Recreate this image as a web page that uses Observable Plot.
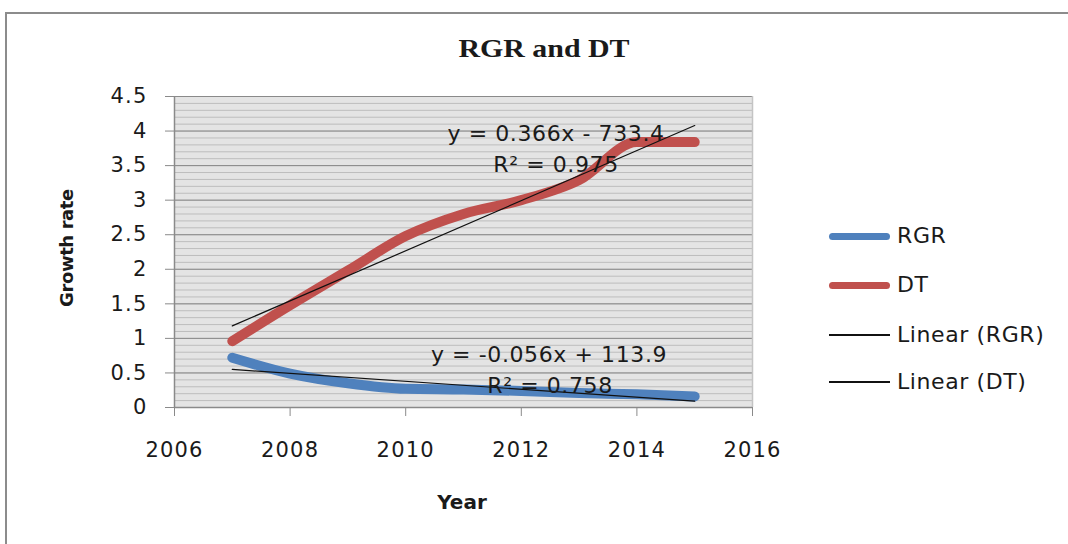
<!DOCTYPE html>
<html>
<head>
<meta charset="utf-8">
<script src="https://cdn.jsdelivr.net/npm/d3@7"></script>
<script src="https://cdn.jsdelivr.net/npm/@observablehq/plot@0.6"></script>
<style>
  html, body { margin: 0; padding: 0; background: #fff; }
  #wrap { position: relative; width: 1068px; height: 544px; overflow: hidden; background: #fff; font-family: "DejaVu Sans", sans-serif; color: #1a1a1a; }
  #frame { position: absolute; left: 5px; top: 12px; width: 1200px; height: 700px; border: 2px solid #8c8c8c; box-sizing: border-box; }
  #chart { position: absolute; left: 0; top: 0; }
  .t { position: absolute; white-space: nowrap; transform: translate(-50%, -50%); line-height: 1; }
  .l { position: absolute; white-space: nowrap; transform: translate(0, -50%); line-height: 1; font-size: 22px; letter-spacing: 0.6px; }
  .sw { position: absolute; }
</style>
</head>
<body>
<div id="wrap">
  <div id="frame"></div>
  <div id="chart"></div>
</div>
<script>
// ---- data ----
const years = [2007, 2008, 2009, 2010, 2011, 2012, 2013, 2014, 2015];
const rgr = [0.72, 0.49, 0.35, 0.27, 0.26, 0.24, 0.21, 0.19, 0.16];
const dt = [0.96, 1.48, 1.98, 2.48, 2.80, 3.00, 3.29, 3.84, 3.84];
const seriesNames = ["RGR", "DT"];
const seriesColors = ["#4f81bd", "#c0504d"];
const trendNames = ["Linear (RGR)", "Linear (DT)"];
const xTicks = [2006, 2008, 2010, 2012, 2014, 2016];
const yTicks = [0, 0.5, 1, 1.5, 2, 2.5, 3, 3.5, 4, 4.5];
const yMinor = d3.range(0, 46).map(i => i / 10);
const titleText = "RGR and DT";
const xLabel = "Year";
const yLabel = "Growth rate";
const eqDT = ["y = 0.366x - 733.4", "R² = 0.975"];
const eqRGR = ["y = -0.056x + 113.9", "R² = 0.758"];

const rows = [];
years.forEach((yr, i) => {
  rows.push({year: yr, value: rgr[i], series: "RGR"});
  rows.push({year: yr, value: dt[i], series: "DT"});
});

const chart = Plot.plot({
  width: 1068,
  height: 544,
  marginLeft: 174,
  marginRight: 316,
  marginTop: 96,
  marginBottom: 137,
  style: { fontFamily: "DejaVu Sans, sans-serif", fontSize: "21px", letterSpacing: "1.2px", color: "#1a1a1a", background: "transparent", overflow: "visible" },
  x: { domain: [2006, 2016], label: null },
  y: { domain: [0, 4.5], label: null },
  color: { domain: seriesNames, range: seriesColors },
  marks: [
    Plot.frame({ fill: "#e4e4e4", stroke: null }),
    Plot.ruleY(yMinor, { stroke: "#bdbdbd", strokeWidth: 1 }),
    Plot.ruleY(yTicks, { stroke: "#8a8a8a", strokeWidth: 1 }),
    Plot.ruleX([2016], { stroke: "#c4c4c4", strokeWidth: 1.5 }),
    Plot.ruleX([2006], { stroke: "#8a8a8a", strokeWidth: 1.5 }),
    Plot.ruleY([0], { stroke: "#8a8a8a", strokeWidth: 1.5 }),
    Plot.axisY(yTicks, { label: null, tickSize: 9, tickPadding: 18, stroke: "#8a8a8a", fill: "#1a1a1a", tickFormat: d => String(d), fontSize: 21 }),
    Plot.axisX(xTicks, { label: null, tickSize: 9, tickPadding: 26, stroke: "#8a8a8a", fill: "#1a1a1a", tickFormat: d => String(d), fontSize: 21 }),
    Plot.line(rows, { x: "year", y: "value", z: "series", stroke: "series", strokeWidth: 10, curve: "monotone-x", strokeLinecap: "round", strokeLinejoin: "round" }),
    Plot.linearRegressionY(rows.filter(d => d.series === "RGR"), { x: "year", y: "value", stroke: "#111", strokeWidth: 1.2, ci: 0 }),
    Plot.linearRegressionY(rows.filter(d => d.series === "DT"), { x: "year", y: "value", stroke: "#111", strokeWidth: 1.2, ci: 0 })
  ]
});
document.getElementById("chart").appendChild(chart);

const wrap = document.getElementById("wrap");
function addText(txt, cls, left, top, css) {
  const el = document.createElement("div");
  el.className = cls;
  el.textContent = txt;
  el.style.left = left + "px";
  el.style.top = top + "px";
  Object.assign(el.style, css || {});
  wrap.appendChild(el);
  return el;
}
// title and axis titles
addText(titleText, "t", 544, 49, { fontFamily: "Liberation Serif, serif", fontWeight: "bold", fontSize: "26px", transform: "translate(-50%,-50%) scaleX(1.15)" });
addText(xLabel, "t", 462, 502, { fontWeight: "bold", fontSize: "20px" });
addText(yLabel, "t", 67, 248, { fontWeight: "bold", fontSize: "18px", letterSpacing: "-0.4px", transform: "translate(-50%,-50%) rotate(-90deg)" });
// trendline equations
const eqCss = { fontSize: "22px", letterSpacing: "0.6px" };
addText(eqDT[0], "t", 556, 134, eqCss);
addText(eqDT[1], "t", 556, 165, eqCss);
addText(eqRGR[0], "t", 549, 355, eqCss);
addText(eqRGR[1], "t", 550, 386, eqCss);
// legend
const legendRows = [
  { name: seriesNames[0], color: seriesColors[0], thick: 7, y: 236 },
  { name: seriesNames[1], color: seriesColors[1], thick: 7, y: 285 },
  { name: trendNames[0], color: "#111", thick: 1.3, y: 335 },
  { name: trendNames[1], color: "#111", thick: 1.3, y: 382 }
];
legendRows.forEach(r => {
  const sw = document.createElement("div");
  sw.className = "sw";
  sw.style.left = "829px";
  sw.style.width = "61px";
  sw.style.height = r.thick + "px";
  sw.style.top = (r.y - r.thick / 2) + "px";
  sw.style.background = r.color;
  sw.style.borderRadius = r.thick > 2 ? (r.thick / 2) + "px" : "0";
  wrap.appendChild(sw);
  addText(r.name, "l", 897, r.y, {});
});
</script>
</body>
</html>
